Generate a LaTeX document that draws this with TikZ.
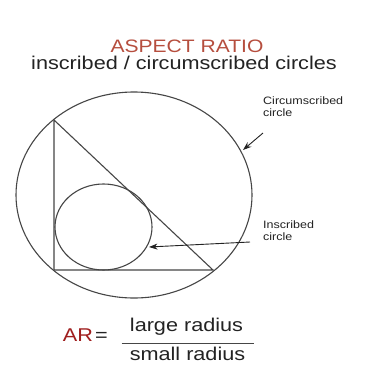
\documentclass[tikz,border=0pt]{standalone}
\usepackage{fontspec}
\setmainfont{Liberation Sans}[FakeStretch=1.17]
\usetikzlibrary{arrows.meta,shapes.geometric}
\definecolor{titlered}{RGB}{182,78,62}
\definecolor{arred}{RGB}{160,30,30}
\definecolor{ink}{RGB}{35,35,35}
\definecolor{linegray}{RGB}{70,70,70}
\tikzset{
  shape line/.style={draw=linegray, line width=1.1pt},
  pointer/.style={draw=ink, line width=0.9pt, -{Stealth[length=8.5pt,width=6pt]}},
  label text/.style={text=ink, inner sep=0pt, align=left, font=\fontsize{10.7}{12}\selectfont},
  big text/.style={inner sep=0pt, font=\fontsize{18.5}{22}\selectfont},
}
\begin{document}
\begin{tikzpicture}[x=1pt,y=-1pt]
\useasboundingbox (0,0) rectangle (368,381);
\fill[white] (0,0) rectangle (368,381);
% title
\node[big text, text=titlered, anchor=base, font=\fontsize{18}{22}\selectfont] (title) at (187,52) {ASPECT RATIO};
\node[big text, text=ink, anchor=base] (subtitle) at (184,69) {inscribed / circumscribed circles};
% circumscribed ellipse
\node[shape line, ellipse, minimum width=236pt, minimum height=206pt, inner sep=0pt] (outer) at (134,195) {};
% triangle
\coordinate (A) at (54,120);
\coordinate (B) at (54,270);
\coordinate (C) at (213,270);
\draw[shape line, line join=miter] (A) -- (B) -- (C) -- cycle;
% inscribed ellipse
\node[shape line, ellipse, minimum width=97pt, minimum height=86pt, inner sep=0pt] (inner) at (103.5,227) {};
% labels
\node[label text, anchor=base west] (clabel) at (263,116) {Circumscribed\\circle};
\node[label text, anchor=base west] (ilabel) at (263,240) {Inscribed\\circle};
\coordinate (cstart) at (263,133);
\coordinate (ctip) at (243,150);
\coordinate (istart) at (250,242);
\coordinate (itip) at (149,247);
\draw[pointer] (cstart) -- (ctip);
\draw[pointer] (istart) -- (itip);
% formula
\node[big text, text=arred, anchor=base west] (ar) at (62.7,341) {AR};
\node[big text, text=ink, anchor=base west] (eq) at (95,341) {=};
\node[big text, text=ink, anchor=base] (num) at (186.5,331.7) {large radius};
\node[big text, text=ink, anchor=base] (den) at (187.5,360) {small radius};
\coordinate (barL) at (121.7,343.3);
\coordinate (barR) at (254,343.3);
\draw[draw=linegray, line width=1pt] (barL) -- (barR);
\end{tikzpicture}
\end{document}
